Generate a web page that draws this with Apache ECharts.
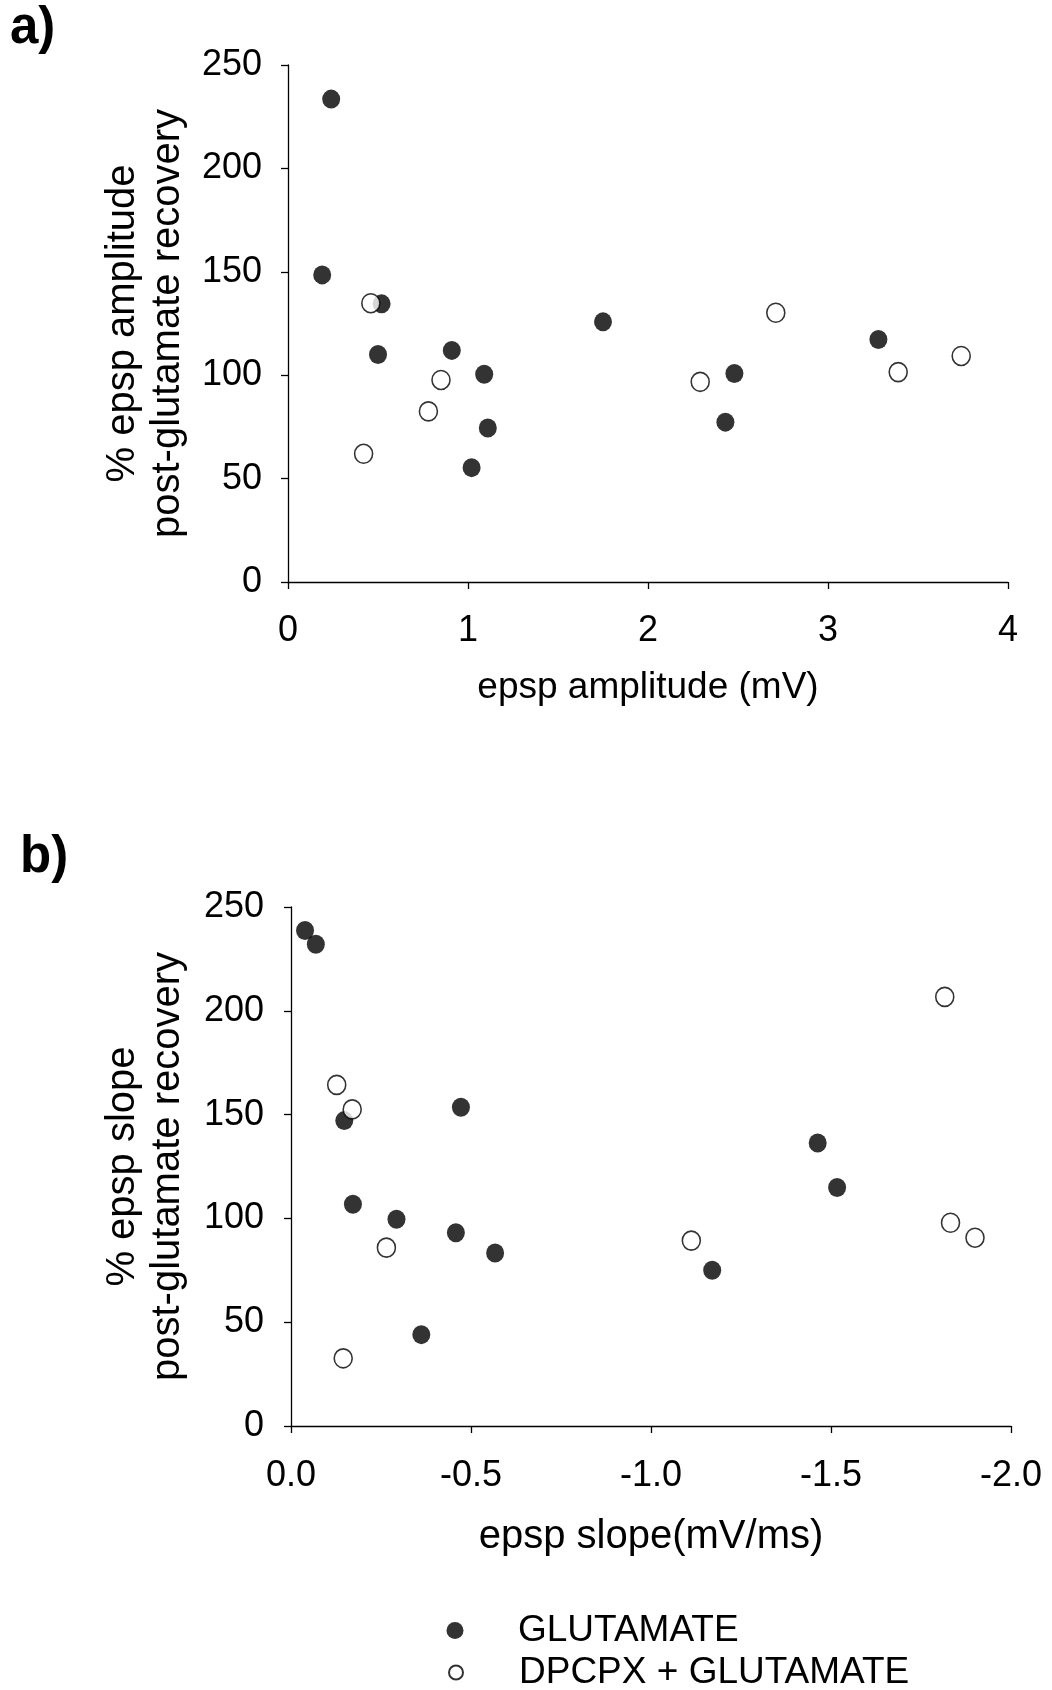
<!DOCTYPE html>
<html>
<head>
<meta charset="utf-8">
<script src="https://cdn.jsdelivr.net/npm/echarts@6/dist/echarts.min.js"></script>
<style>
html,body{margin:0;padding:0;background:#fff;}
#c{width:1052px;height:1690px;}
</style>
</head>
<body>
<div id="c"></div>
<script>
// Panel a: epsp amplitude (mV) vs % epsp amplitude recovery
const aGluX = [0.24, 0.19, 0.52, 0.50, 0.91, 1.09, 1.11, 1.02, 1.75, 2.48, 2.43, 3.28];
const aGluY = [233.5, 148.5, 134.5, 110, 112, 100.5, 74.5, 55.3, 125.8, 100.8, 77.3, 117.3];
const aDpX = [0.46, 0.85, 0.78, 0.42, 2.29, 2.71, 3.39, 3.74];
const aDpY = [134.8, 97.7, 82.5, 62, 96.8, 130.2, 101.5, 109.3];
// Panel b: epsp slope (mV/ms) vs % epsp slope recovery
const bGluX = [-0.039, -0.069, -0.148, -0.472, -0.172, -0.293, -0.458, -0.567, -0.362, -1.17, -1.463, -1.517];
const bGluY = [238.7, 232.1, 147.1, 153.5, 106.8, 99.6, 93.1, 83.3, 44, 75, 136.3, 114.9];
const bDpX = [-0.127, -0.170, -0.265, -0.145, -1.112, -1.816, -1.832, -1.90];
const bDpY = [164.3, 152.5, 85.9, 32.6, 89.3, 206.7, 97.9, 90.7];
const seriesNames = ['GLUTAMATE', 'DPCPX + GLUTAMATE'];
const panelLabels = ['a)', 'b)'];

const pairs = (xs, ys) => xs.map((x, i) => [x, ys[i]]);
const FONT = "'Liberation Sans', Arial, sans-serif";
const FS = 36;

const axisCommon = {
  axisLine: {show: true, lineStyle: {color: '#000', width: 1.3}},
  axisTick: {show: true, inside: false, length: 7, lineStyle: {color: '#000', width: 1.3}},
  splitLine: {show: false}
};
const nameStyle = (fs, lh) => ({color: '#000', fontSize: fs, fontFamily: FONT, lineHeight: lh});
const labelStyle = (m, fmt) => ({color: '#000', fontSize: FS, fontFamily: FONT, margin: m, formatter: fmt});

const filled = {color: '#000'};
const open = {color: '#fff', borderColor: '#000', borderWidth: 1.6};
const SYM = [18, 19];

const chart = echarts.init(document.getElementById('c'), null, {renderer: 'canvas'});
chart.setOption({
  animation: false,
  backgroundColor: '#fff',
  title: [
    {text: panelLabels[0], left: 10, top: 3, padding: 0, textStyle: {fontSize: 51, fontWeight: 'bold', fontFamily: FONT, color: '#000'}},
    {text: panelLabels[1], left: 20, top: 832, padding: 0, textStyle: {fontSize: 51, fontWeight: 'bold', fontFamily: FONT, color: '#000'}}
  ],
  grid: [
    {left: 288, top: 65, width: 720, height: 517},
    {left: 291, top: 907, width: 720, height: 519}
  ],
  xAxis: [
    Object.assign({}, axisCommon, {
      gridIndex: 0, type: 'value', min: 0, max: 4, interval: 1,
      name: 'epsp amplitude (mV)', nameLocation: 'middle', nameGap: 87,
      nameTextStyle: nameStyle(37, 37),
      axisLabel: labelStyle(31)
    }),
    Object.assign({}, axisCommon, {
      gridIndex: 1, type: 'value', min: -2, max: 0, interval: 0.5, inverse: true,
      name: 'epsp slope(mV/ms)', nameLocation: 'middle', nameGap: 91,
      nameTextStyle: nameStyle(40, 40),
      axisLabel: labelStyle(32, v => (Math.abs(v) < 1e-9 ? 0 : v).toFixed(1))
    })
  ],
  yAxis: [
    Object.assign({}, axisCommon, {
      gridIndex: 0, type: 'value', min: 0, max: 250, interval: 50,
      name: '% epsp amplitude\npost-glutamate recovery', nameLocation: 'middle', nameGap: 98,
      nameTextStyle: nameStyle(40, 45),
      axisLabel: labelStyle(26)
    }),
    Object.assign({}, axisCommon, {
      gridIndex: 1, type: 'value', min: 0, max: 250, interval: 50,
      name: '% epsp slope\npost-glutamate recovery', nameLocation: 'middle', nameGap: 101,
      nameTextStyle: nameStyle(40, 45),
      axisLabel: labelStyle(27)
    })
  ],
  legend: [
    {
      data: [seriesNames[0]], left: 446.5, top: 1612, padding: 0,
      itemWidth: 17, itemHeight: 17, selectedMode: false,
      textStyle: {color: '#000', fontSize: 37, fontFamily: FONT, lineHeight: 36, padding: [0, 0, 0, 49.5]}
    },
    {
      data: [seriesNames[1]], left: 448, top: 1654, padding: 0,
      itemWidth: 14, itemHeight: 14, selectedMode: false,
      textStyle: {color: '#000', fontSize: 37, fontFamily: FONT, lineHeight: 36, padding: [0, 0, 0, 51]}
    }
  ],
  series: [
    {name: seriesNames[0], type: 'scatter', xAxisIndex: 0, yAxisIndex: 0, data: pairs(aGluX, aGluY), symbol: 'circle', symbolSize: SYM, itemStyle: filled, z: 3},
    {name: seriesNames[1], type: 'scatter', xAxisIndex: 0, yAxisIndex: 0, data: pairs(aDpX, aDpY), symbol: 'circle', symbolSize: SYM, itemStyle: open, z: 4},
    {name: seriesNames[0], type: 'scatter', xAxisIndex: 1, yAxisIndex: 1, data: pairs(bGluX, bGluY), symbol: 'circle', symbolSize: SYM, itemStyle: filled, z: 3},
    {name: seriesNames[1], type: 'scatter', xAxisIndex: 1, yAxisIndex: 1, data: pairs(bDpX, bDpY), symbol: 'circle', symbolSize: SYM, itemStyle: open, z: 4}
  ]
});
</script>
</body>
</html>
